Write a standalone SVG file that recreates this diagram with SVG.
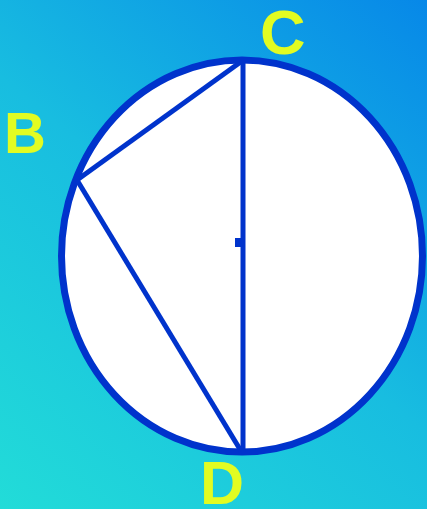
<svg xmlns="http://www.w3.org/2000/svg" width="427" height="509" viewBox="0 0 427 509">
  <defs>
    <linearGradient id="bg" x1="0" y1="509" x2="427" y2="0" gradientUnits="userSpaceOnUse">
      <stop offset="0" stop-color="#22dcd8"/>
      <stop offset="0.5" stop-color="#18bde0"/>
      <stop offset="1" stop-color="#0788e8"/>
    </linearGradient>
    <style>
      .lbl { font-family: "Liberation Sans", Arial, sans-serif; font-weight: bold; fill: #e2fc22; }
      .edge { stroke: #0033cc; stroke-width: 5; fill: none; }
    </style>
  </defs>
  <rect x="0" y="0" width="427" height="509" fill="url(#bg)"/>
  <g id="circle">
    <ellipse cx="242" cy="256" rx="180.5" ry="196" fill="#ffffff" stroke="#0033cc" stroke-width="7"/>
  </g>
  <g id="connectors">
    <line class="edge" x1="243" y1="60" x2="243" y2="452"/>
    <line class="edge" x1="77" y1="180" x2="242" y2="61"/>
    <line class="edge" x1="77" y1="180" x2="241" y2="451"/>
  </g>
  <g id="center">
    <rect x="235" y="238" width="6" height="9" fill="#0033cc"/>
  </g>
  <g id="C"><text class="lbl" x="260" y="54" font-size="63">C</text></g>
  <g id="B"><text class="lbl" x="4" y="153" font-size="58">B</text></g>
  <g id="D"><text class="lbl" x="200" y="504" font-size="61">D</text></g>
</svg>
